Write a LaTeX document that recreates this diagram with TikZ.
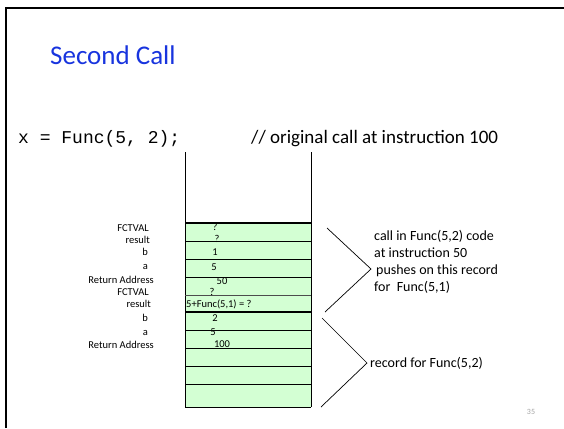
\documentclass[tikz,border=0pt]{standalone}
\usepackage{fontspec}
\setmainfont{Carlito}
\newfontfamily\codefont{Liberation Mono}
\usepackage{xcolor}
\definecolor{slideblue}{RGB}{24,52,222}
\definecolor{stackgreen}{RGB}{211,255,211}
\definecolor{pagegray}{RGB}{165,165,165}
\usetikzlibrary{positioning}

\begin{document}
\begin{tikzpicture}[x=1pt, y=-1pt,
  fieldlbl/.style={font=\fontsize{10.5}{12}\selectfont, anchor=mid east, inner sep=0pt},
  fieldval/.style={font=\fontsize{10.5}{12}\selectfont, anchor=mid, inner sep=0pt},
  notetext/.style={font=\fontsize{14}{17}\selectfont, anchor=base west, inner sep=0pt}]
  \useasboundingbox (0,0) rectangle (564,428);

  % slide frame
  \draw[line width=2.2pt] (6,428) -- (6,8) -- (564,8);

  % title and call line
  \node[anchor=base west, inner sep=0pt, text=slideblue,
        font=\fontsize{27}{32}\selectfont] (title) at (50,64) {Second Call};
  \node[anchor=base west, inner sep=0pt,
        font=\codefont\fontsize{18}{20}\selectfont] (callcode) at (18,143) {x = Func(5, 2);};
  \node[anchor=base west, inner sep=0pt,
        font=\fontsize{19}{21}\selectfont] (callnote) at (251,143) {// original call at instruction 100};

  % the stack
  \fill[stackgreen] (185,223) rectangle (311,407);
  \draw[line width=0.9pt] (185,152) -- (185,407);
  \draw[line width=0.9pt] (311,152) -- (311,407);
  \draw[line width=2.6pt] (185,223) -- (311,223);
  \draw[line width=2.6pt] (185,312) -- (311,312);
  \draw[line width=0.8pt] (185,241) -- (311,241);
  \draw[line width=0.8pt] (185,259) -- (311,259);
  \draw[line width=0.8pt] (185,277) -- (311,277);
  \draw[line width=0.8pt, black!70] (185,295) -- (311,295);
  \draw[line width=0.8pt] (185,330) -- (311,330);
  \draw[line width=0.8pt] (185,348) -- (311,348);
  \draw[line width=0.8pt] (185,366) -- (311,366);
  \draw[line width=0.8pt] (185,384) -- (311,384);
  \draw[line width=0.9pt] (185,407) -- (311,407);

  % field names, record for Func(5,1)
  \node[fieldlbl] (fct1) at (149,229) {FCTVAL};
  \node[fieldlbl] (res1) at (150,241) {result};
  \node[fieldlbl] (b1) at (148,253) {b};
  \node[fieldlbl] (a1) at (148,267) {a};
  \node[fieldlbl] (ret1) at (154,281) {Return Address};
  % field names, record for Func(5,2)
  \node[fieldlbl] (fct2) at (149,293) {FCTVAL};
  \node[fieldlbl] (res2) at (151,305) {result};
  \node[fieldlbl] (b2) at (148,319) {b};
  \node[fieldlbl] (a2) at (148,333) {a};
  \node[fieldlbl] (ret2) at (154,346) {Return Address};

  % values
  \node[fieldval] (fctval1) at (215,228) {?};
  \node[fieldval] (resval1) at (217,240) {?};
  \node[fieldval] (bval1) at (215,253) {1};
  \node[fieldval] (aval1) at (214,268) {5};
  \node[fieldval] (retval1) at (222,282) {50};
  \node[fieldval] (fctval2) at (212,293) {?};
  \node[fieldval, anchor=mid west] (resval2) at (186,305) {5+Func(5,1) = ?};
  \node[fieldval] (bval2) at (215,319) {2};
  \node[fieldval] (aval2) at (213,333) {5};
  \node[fieldval] (retval2) at (222,345) {100};

  % brackets
  \coordinate (uptop) at (327,228);
  \coordinate (uptip) at (371,269);
  \coordinate (upbot) at (325,312);
  \draw[line width=0.7pt] (uptop) -- (uptip) -- (upbot);
  \coordinate (lotop) at (322,318);
  \coordinate (lotip) at (367,363);
  \coordinate (lobot) at (321,407);
  \draw[line width=0.7pt] (lotop) -- (lotip) -- (lobot);

  % notes
  \node[notetext] (pushnote1) at (374,240) {call in Func(5,2) code};
  \node[notetext] (pushnote2) at (374,257) {at instruction 50};
  \node[notetext] (pushnote3) at (376,274) {pushes on this record};
  \node[notetext] (pushnote4) at (374,291) {for\ \ Func(5,1)};
  \node[notetext] (recnote) at (370,367) {record for Func(5,2)};

  % page number
  \node[text=pagegray, inner sep=0pt, font=\fontsize{8}{9}\selectfont] (pagenum) at (531,412) {35};
\end{tikzpicture}
\end{document}
